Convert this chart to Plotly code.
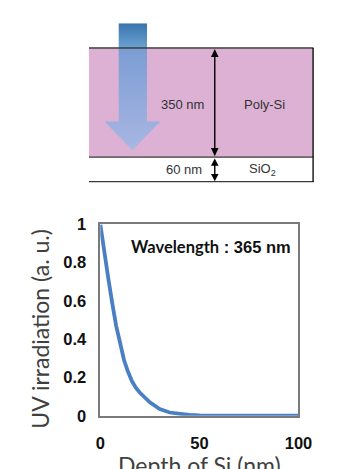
import plotly.graph_objects as go

# ---- data ----
depth_nm = [0, 2, 4, 6, 8, 10, 12, 14, 16, 18, 20, 25, 30, 35, 40, 45, 50, 60, 70, 80, 90, 100]
uv_irr = [1.0, 0.85, 0.72, 0.59, 0.47, 0.38, 0.29, 0.23, 0.18, 0.145, 0.12, 0.07, 0.035, 0.017,
          0.008, 0.004, 0.002, 0.001, 0.0, 0.0, 0.0, 0.0]
x_ticks = [0, 50, 100]
x_ticklabels = ["0", "50", "100"]
y_ticks = [0, 0.2, 0.4, 0.6, 0.8, 1]
y_ticklabels = ["0", "0.2", "0.4", "0.6", "0.8", "1"]
wavelength_label = ["Wavelength", " : 365 nm"]
layer_thickness = ["350 nm", "60 nm"]
layer_names = ["Poly-Si", "SiO<sub>2</sub>"]
x_title = "Depth of Si (nm)"
y_title = "UV irradiation (a. u.)"

W, H = 337, 469
fig = go.Figure()

# main plot
fig.add_trace(go.Scatter(x=depth_nm, y=uv_irr, mode="lines",
                         line=dict(color="#4a7fc4", width=3.8),
                         xaxis="x", yaxis="y", showlegend=False, hoverinfo="skip"))

# diagram arrow (on pixel overlay axes)
fig.add_trace(go.Scatter(x=[120.5, 150.5, 150.5, 120.5, 120.5], y=[15, 15, 41, 41, 15],
                         mode="lines", line=dict(width=0), fill="toself",
                         fillgradient=dict(type="vertical", start=15, stop=41,
                                           colorscale=[[0, "#3a75ae"], [1, "#6ea6d3"]]),
                         xaxis="x2", yaxis="y2", showlegend=False, hoverinfo="skip"))
fig.add_trace(go.Scatter(x=[120.5, 150.5, 150.5, 164.5, 135, 105.5, 120.5, 120.5],
                         y=[41, 41, 117, 117, 147, 117, 117, 41],
                         mode="lines", line=dict(width=0), fill="toself",
                         fillgradient=dict(type="vertical", start=41, stop=147,
                                           colorscale=[[0, "#7c9dd4"], [1, "#abb8e3"]]),
                         xaxis="x2", yaxis="y2", showlegend=False, hoverinfo="skip"))

shapes = []
# pink poly-Si layer
shapes.append(dict(type="rect", xref="x2", yref="y2", x0=89, x1=326.5, y0=41, y1=154,
                   fillcolor="#dcb1d4", line=dict(width=0), layer="below"))
for yy in [40.5, 154, 179.5]:
    shapes.append(dict(type="line", xref="x2", yref="y2", x0=89, x1=327, y0=yy, y1=yy,
                       line=dict(color="#3a3a3a", width=1.4)))
shapes.append(dict(type="line", xref="x2", yref="y2", x0=326.5, x1=326.5, y0=40.5, y1=180,
                   line=dict(color="#111111", width=1.4)))
# dimension arrows
ax = 222.3
shapes.append(dict(type="line", xref="x2", yref="y2", x0=ax, x1=ax, y0=46, y1=150,
                   line=dict(color="#000", width=1.4)))
shapes.append(dict(type="line", xref="x2", yref="y2", x0=ax, x1=ax, y0=158, y1=176,
                   line=dict(color="#000", width=1.4)))


def tri(tip_y, base_y, hw=4):
    return dict(type="path", xref="x2", yref="y2",
                path=f"M {ax} {tip_y} L {ax-hw} {base_y} L {ax+hw} {base_y} Z",
                fillcolor="#000", line=dict(width=0))


shapes += [tri(41.5, 50), tri(153, 144.5), tri(155.5, 163), tri(179, 171.5)]

annotations = []
dfont = dict(family="Liberation Sans, Arial", size=13, color="#333333")
annotations.append(dict(x=188, y=99, xref="x2", yref="y2", text=layer_thickness[0],
                        showarrow=False, font=dfont))
annotations.append(dict(x=275.5, y=99, xref="x2", yref="y2", text=layer_names[0],
                        showarrow=False, font=dfont))
annotations.append(dict(x=190, y=166.5, xref="x2", yref="y2", text=layer_thickness[1],
                        showarrow=False, font=dfont))
annotations.append(dict(x=273, y=167, xref="x2", yref="y2", text=layer_names[1],
                        showarrow=False, font=dfont))
# wavelength label
annotations.append(dict(x=218, y=248, xref="x2", yref="y2",
                        text=f"<b><span style='font-family:Lato'>{wavelength_label[0]}</span>{wavelength_label[1]}</b>",
                        showarrow=False,
                        font=dict(family="Liberation Sans, Arial", size=16.5, color="#111")))
# axis titles
annotations.append(dict(x=37, y=332.5, xref="x2", yref="y2", text=y_title,
                        textangle=-90, showarrow=False,
                        font=dict(family="Lato", size=23, color="#404040")))
annotations.append(dict(x=206 / W, y=(H - 458) / H, xref="paper", yref="paper", text=x_title,
                        showarrow=False, yanchor="top",
                        font=dict(family="Lato", size=23, color="#404040")))

x0p, x1p = 101 / W, 311 / W
y0p, y1p = 1 - 423 / H, 1 - 224 / H

fig.update_layout(
    width=W, height=H, margin=dict(l=0, r=0, t=0, b=0),
    paper_bgcolor="white", plot_bgcolor="rgba(0,0,0,0)",
    xaxis=dict(domain=[x0p, x1p], range=[0, 100], tickvals=x_ticks,
               ticktext=[f"<b>{t}</b>" for t in x_ticklabels],
               showgrid=False, zeroline=False, showline=True, mirror=True,
               linecolor="#7a7a7a", linewidth=1.5, ticks="", anchor="y",
               tickfont=dict(family="Liberation Sans, Arial", size=16.5, color="#111"),
               ticklabelstandoff=12),
    yaxis=dict(domain=[y0p, y1p], range=[0, 1], tickvals=y_ticks,
               ticktext=[f"<b>{t}</b>" for t in y_ticklabels],
               showgrid=False, zeroline=False, showline=True, mirror=True,
               linecolor="#7a7a7a", linewidth=1.5, ticks="", anchor="x",
               tickfont=dict(family="Liberation Sans, Arial", size=16.5, color="#111"),
               ticklabelstandoff=9),
    xaxis2=dict(domain=[0, 1], range=[0, W], visible=False, fixedrange=True, anchor="y2"),
    yaxis2=dict(domain=[0, 1], range=[H, 0], visible=False, fixedrange=True, anchor="x2"),
    shapes=shapes, annotations=annotations,
)
fig.write_html("out.html")
